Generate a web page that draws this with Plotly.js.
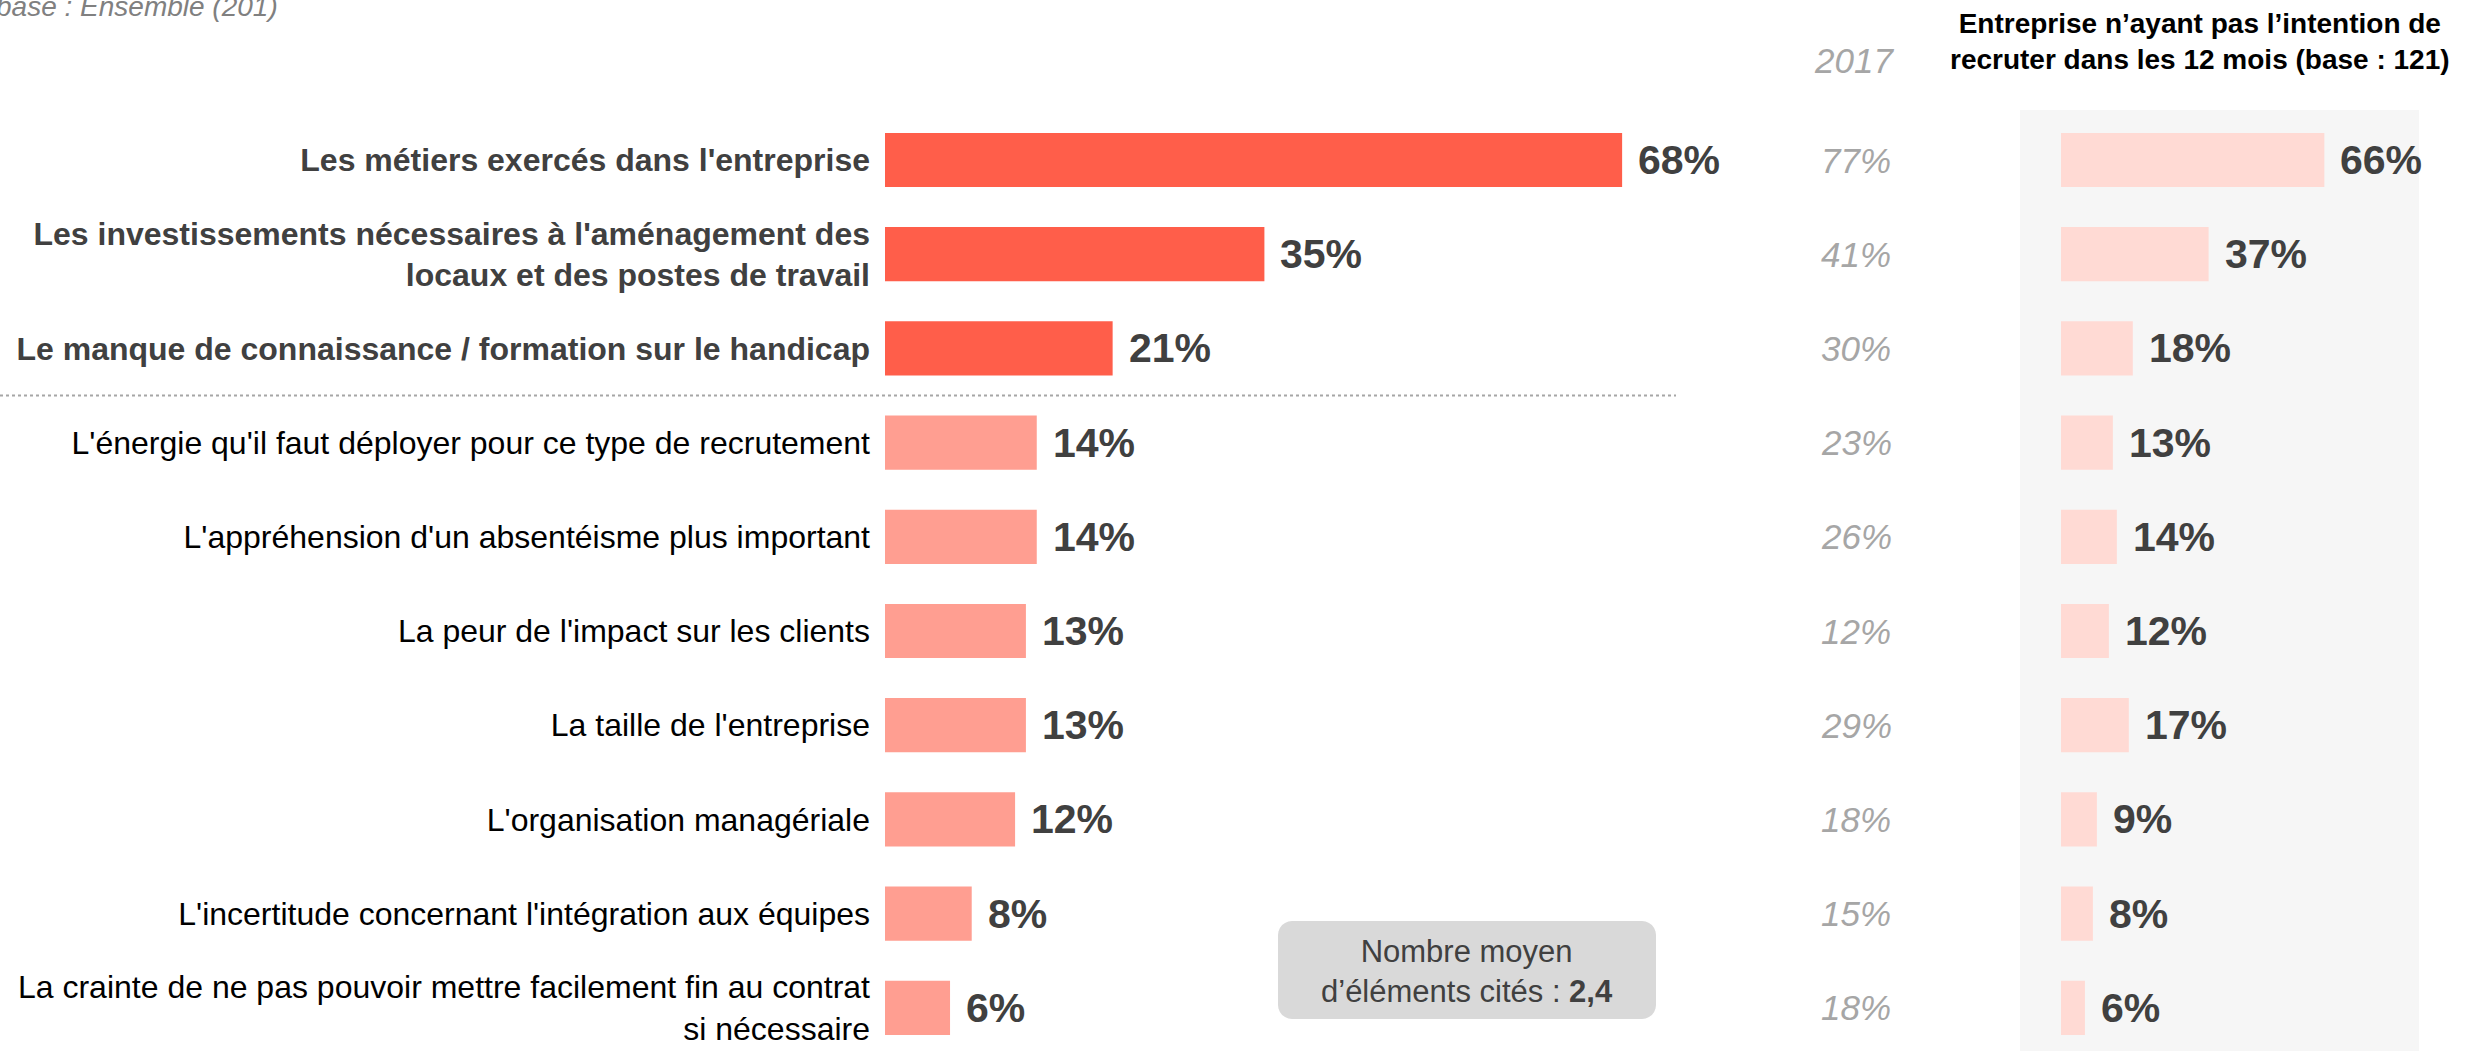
<!DOCTYPE html>
<html>
<head>
<meta charset="utf-8">
<script src="https://cdn.plot.ly/plotly-3.0.1.min.js"></script>
<style>html,body{margin:0;padding:0;background:#fff;}#chart{width:2484px;height:1051px;}</style>
</head>
<body>
<div id="chart"></div>
<script>
// ---- data ----
const categories = [
  "Les métiers exercés dans l'entreprise",
  "Les investissements nécessaires à l'aménagement des<br>locaux et des postes de travail",
  "Le manque de connaissance / formation sur le handicap",
  "L'énergie qu'il faut déployer pour ce type de recrutement",
  "L'appréhension d'un absentéisme plus important",
  "La peur de l'impact sur les clients",
  "La taille de l'entreprise",
  "L'organisation managériale",
  "L'incertitude concernant l'intégration aux équipes",
  "La crainte de ne pas pouvoir mettre facilement fin au contrat<br>si nécessaire"
];
const boldCount = 3;
const values2019 = [68, 35, 21, 14, 14, 13, 13, 12, 8, 6];
const values2017 = [77, 41, 30, 23, 26, 12, 29, 18, 15, 18];
const valuesNoHire = [66, 37, 18, 13, 14, 12, 17, 9, 8, 6];
const header2017 = "2017";
const panelTitle = "Entreprise n’ayant pas l’intention de<br>recruter dans les 12 mois (base : 121)";
const baseNote = "base : Ensemble (201)";
const avgNote = "Nombre moyen<br>d’éléments cités : <b>2,4</b>";

// ---- layout geometry (pixels) ----
const W = 2484, H = 1051;
const plotTop = 113, plotBottom = 1051;
const rowPx = 94.2;
const firstCenter = 160;
const plotH = plotBottom - plotTop;
const yTop = -((firstCenter - plotTop) / rowPx);
const yBottom = yTop + plotH / rowPx;
const px2paperX = p => p / W;
const px2paperY = p => (plotBottom - p) / plotH;

const FONT = '"Liberation Sans", Arial, sans-serif';
const idx = categories.map((_, i) => i);
const tickText = categories.map((c, i) => i < boldCount
  ? '<b><span style="color:#404040">' + c + '</span></b>' : c);

const mainColors = values2019.map((_, i) => i < boldCount ? '#FF5E4A' : '#FF9E91');

const traces = [
  {type: 'bar', orientation: 'h', x: values2019, y: idx, xaxis: 'x', yaxis: 'y',
   marker: {color: mainColors}, width: 0.575, hoverinfo: 'skip'},
  {type: 'bar', orientation: 'h', x: valuesNoHire, y: idx, xaxis: 'x2', yaxis: 'y',
   marker: {color: '#FFDAD4'}, width: 0.575, hoverinfo: 'skip'}
];

const annotations = [];
values2019.forEach((v, i) => annotations.push({
  x: v, y: i, xref: 'x', yref: 'y', text: '<b>' + v + '%</b>', showarrow: false,
  xanchor: 'left', yanchor: 'middle', xshift: 14,
  font: {family: FONT, size: 41, color: '#404040'}
}));
valuesNoHire.forEach((v, i) => annotations.push({
  x: v, y: i, xref: 'x2', yref: 'y', text: '<b>' + v + '%</b>', showarrow: false,
  xanchor: 'left', yanchor: 'middle', xshift: 14,
  font: {family: FONT, size: 41, color: '#404040'}
}));
values2017.forEach((v, i) => annotations.push({
  x: px2paperX(1856), y: i, xref: 'paper', yref: 'y', text: '<i>' + v + '%</i>', showarrow: false,
  xanchor: 'center', yanchor: 'middle',
  font: {family: FONT, size: 35, color: '#A6A6A6'}
}));
annotations.push({
  x: px2paperX(1854), y: px2paperY(60), xref: 'paper', yref: 'paper', text: '<i>' + header2017 + '</i>',
  showarrow: false, xanchor: 'center', yanchor: 'middle',
  font: {family: FONT, size: 35, color: '#A6A6A6'}
});
annotations.push({
  x: px2paperX(2200), y: px2paperY(42), xref: 'paper', yref: 'paper', text: '<b>' + panelTitle + '</b>',
  showarrow: false, xanchor: 'center', yanchor: 'middle', align: 'center',
  font: {family: FONT, size: 28, color: '#000000'}
});
annotations.push({
  x: px2paperX(-6), y: px2paperY(6), xref: 'paper', yref: 'paper', text: '<i>' + baseNote + '</i>',
  showarrow: false, xanchor: 'left', yanchor: 'middle', align: 'left',
  font: {family: FONT, size: 28, color: '#808080'}
});
annotations.push({
  x: px2paperX(1467), y: px2paperY(971), xref: 'paper', yref: 'paper', text: avgNote,
  showarrow: false, xanchor: 'center', yanchor: 'middle', align: 'center',
  font: {family: FONT, size: 31, color: '#404040'}
});

function roundRectPath(x0, y0, x1, y1, r) {
  const X = px2paperX, Y = px2paperY;
  const pts = [];
  const seg = (cx, cy, a0, a1) => {
    for (let k = 0; k <= 6; k++) {
      const a = a0 + (a1 - a0) * k / 6;
      pts.push([cx + r * Math.cos(a), cy + r * Math.sin(a)]);
    }
  };
  seg(x1 - r, y0 + r, -Math.PI / 2, 0);
  seg(x1 - r, y1 - r, 0, Math.PI / 2);
  seg(x0 + r, y1 - r, Math.PI / 2, Math.PI);
  seg(x0 + r, y0 + r, Math.PI, 1.5 * Math.PI);
  return 'M' + pts.map(p => X(p[0]).toFixed(6) + ',' + Y(p[1]).toFixed(6)).join(' L') + ' Z';
}

const shapes = [
  {type: 'rect', xref: 'paper', yref: 'paper', x0: px2paperX(2020), x1: px2paperX(2419),
   y0: 0, y1: px2paperY(110), fillcolor: '#F6F6F6', line: {width: 0}, layer: 'below'},
  {type: 'line', xref: 'paper', yref: 'y', x0: 0, x1: px2paperX(1676), y0: 2.5, y1: 2.5,
   line: {color: '#A6A6A6', width: 2, dash: 'dot'}},
  {type: 'path', xref: 'paper', yref: 'paper', path: roundRectPath(1278, 921, 1656, 1019, 14),
   fillcolor: '#D9D9D9', line: {width: 0}, layer: 'below'}
];

const layout = {
  width: W, height: H,
  margin: {l: 0, r: 0, t: plotTop, b: H - plotBottom, pad: 0},
  paper_bgcolor: '#FFFFFF', plot_bgcolor: 'rgba(0,0,0,0)',
  showlegend: false, barmode: 'overlay',
  font: {family: FONT, color: '#000000'},
  xaxis: {domain: [px2paperX(885), px2paperX(885 + 1084)], range: [0, 100], visible: false, fixedrange: true},
  xaxis2: {domain: [px2paperX(2061), px2paperX(2061 + 399)], range: [0, 100], visible: false, fixedrange: true, anchor: 'y'},
  yaxis: {range: [yBottom, yTop], tickvals: idx, ticktext: tickText, showgrid: false, zeroline: false,
          showline: false, ticks: '', ticklabelstandoff: 14, anchor: 'x',
          tickfont: {family: FONT, size: 32, color: '#000000'}, fixedrange: true},
  annotations: annotations,
  shapes: shapes
};

Plotly.newPlot('chart', traces, layout, {staticPlot: true, displayModeBar: false});
</script>
</body>
</html>
